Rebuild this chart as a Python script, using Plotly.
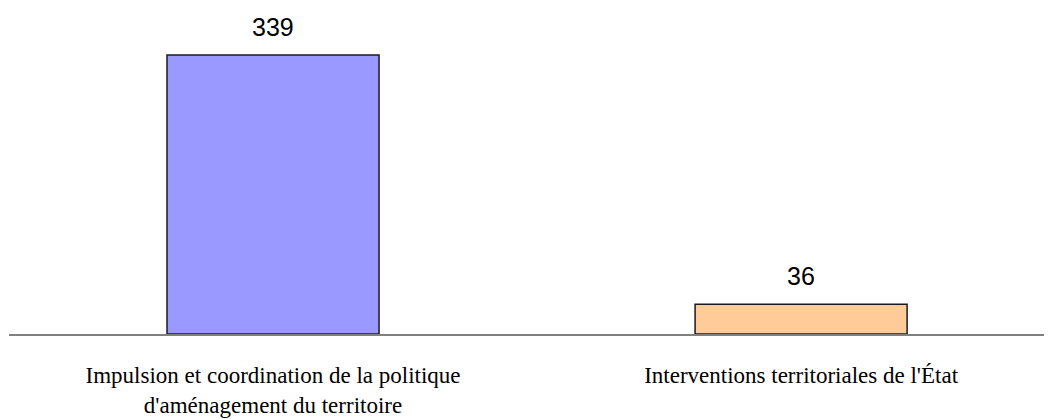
import plotly.graph_objects as go

categories = ["Impulsion et coordination de la politique<br>d'aménagement du territoire",
              "Interventions territoriales de l'État"]
values = [339, 36]
colors = ["#9999FF", "#FFCC99"]

fig = go.Figure()
fig.add_trace(go.Bar(
    x=categories, y=values,
    marker=dict(color=colors, line=dict(color="#1a1a1a", width=1.5)),
    width=0.4015,
    hoverinfo="skip",
))

for c, v in zip(categories, values):
    fig.add_annotation(x=c, y=v, text=str(v), showarrow=False, yanchor="bottom",
                       yshift=12, font=dict(family="Liberation Sans, Arial", size=25, color="#000"))

fig.update_layout(
    width=1036, height=411,
    margin=dict(l=1, r=0, t=0, b=85, autoexpand=False),
    paper_bgcolor="white", plot_bgcolor="white",
    showlegend=False,
    xaxis=dict(type="category", range=[-0.5, 1.46], showline=True, linecolor="#808080",
               linewidth=1.5, showgrid=False, zeroline=False, ticks="",
               automargin=False, ticklabelstandoff=20,
               tickfont=dict(family="Liberation Serif, Times New Roman", size=23, color="#000")),
    yaxis=dict(range=[0, 396.1], visible=False, showgrid=False, zeroline=False, automargin=False),
)

fig.write_html("out.html")
